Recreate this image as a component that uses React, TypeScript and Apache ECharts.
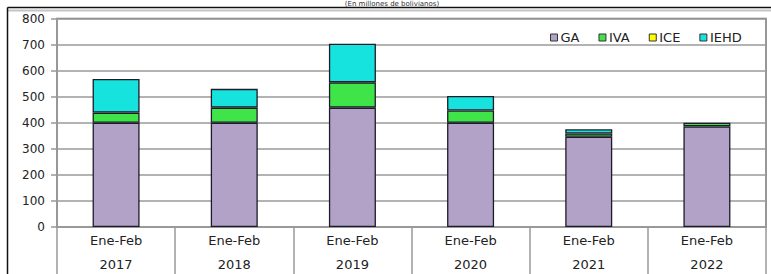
import React, { useEffect, useRef } from "react";
import * as echarts from "echarts";

const years = ["2017", "2018", "2019", "2020", "2021", "2022"];
const periodLabel = "Ene-Feb";
const seriesNames = ["GA", "IVA", "ICE", "IEHD"];
const gaValues = [400, 400, 458, 400, 346, 386];
const ivaValues = [39, 58, 97, 47, 13, 14];
const iceValues = [0, 0, 0, 0, 0, 0];
const iehdValues = [129, 72, 148, 56, 16, 0];
const titleText = "(En millones de bolivianos)";

const colors = ["#b3a2c8", "#3fe548", "#ffff00", "#17e3de"];
const FONT = "DejaVu Sans";

export default function App() {
  const ref = useRef<HTMLDivElement>(null);
  useEffect(() => {
    if (!ref.current) return;
    const chart = echarts.init(ref.current, null, { renderer: "svg" });
    const dataSets = [gaValues, ivaValues, iceValues, iehdValues];
    chart.setOption({
      animation: false,
      backgroundColor: "#ffffff",
      grid: {
        left: 57,
        right: 5,
        top: 18.5,
        bottom: 47,
        show: true,
        borderColor: "#777",
        borderWidth: 1.5,
        containLabel: false,
        outerBoundsMode: "none",
      },
      legend: {
        data: seriesNames,
        left: 545,
        top: 26,
        itemWidth: 7,
        itemHeight: 7,
        itemGap: 19,
        icon: "rect",
        itemStyle: { borderColor: "#333", borderWidth: 1 },
        textStyle: { fontFamily: FONT, fontSize: 13, color: "#222", padding: [0, 0, 0, -2] },
      },
      xAxis: {
        type: "category",
        data: years,
        axisLine: { show: true, lineStyle: { color: "#999", width: 2 } },
        axisTick: { show: true, length: 48, lineStyle: { color: "#999", width: 1.5 } },
        axisLabel: {
          formatter: (v: string) => periodLabel + "\n" + v,
          fontFamily: FONT,
          fontSize: 13,
          color: "#222",
          lineHeight: 24,
          margin: 1,
        },
      },
      yAxis: {
        type: "value",
        min: 0,
        max: 800,
        interval: 100,
        axisLine: { show: true, lineStyle: { color: "#999", width: 1.5 } },
        axisTick: { show: true, length: 6, lineStyle: { color: "#999", width: 1.5 } },
        axisLabel: { fontFamily: FONT, fontSize: 12, color: "#222", margin: 12 },
        splitLine: { show: true, lineStyle: { color: "#9a9a9a", width: 1.5 } },
      },
      series: seriesNames.map((name, i) => ({
        name,
        type: "bar",
        stack: "total",
        barWidth: 47,
        data: dataSets[i].map((v) => (v === 0 ? "-" : v)),
        itemStyle: { color: colors[i], borderColor: "#1c1c28", borderWidth: 1.3 },
      })),
      graphic: [
        {
          type: "line",
          shape: { x1: 7.5, y1: 7.5, x2: 771, y2: 7.5 },
          style: { stroke: "#111", lineWidth: 1.5 },
          z: 100,
        },
        {
          type: "line",
          shape: { x1: 8, y1: 10.5, x2: 771, y2: 10.5 },
          style: { stroke: "#c4c4c4", lineWidth: 2 },
          z: 100,
        },
        {
          type: "line",
          shape: { x1: 7.5, y1: 7.5, x2: 7.5, y2: 274 },
          style: { stroke: "#111", lineWidth: 1.5 },
          z: 100,
        },
        {
          type: "text",
          x: 392,
          y: 0,
          style: {
            text: titleText,
            fontFamily: FONT,
            fontSize: 7,
            fill: "#333",
            align: "center",
            verticalAlign: "top",
          },
          z: 99,
        },
      ],
    });
    return () => chart.dispose();
  }, []);
  return (
    <div
      ref={ref}
      style={{ position: "absolute", left: 0, top: 0, width: 771, height: 274 }}
    />
  );
}
